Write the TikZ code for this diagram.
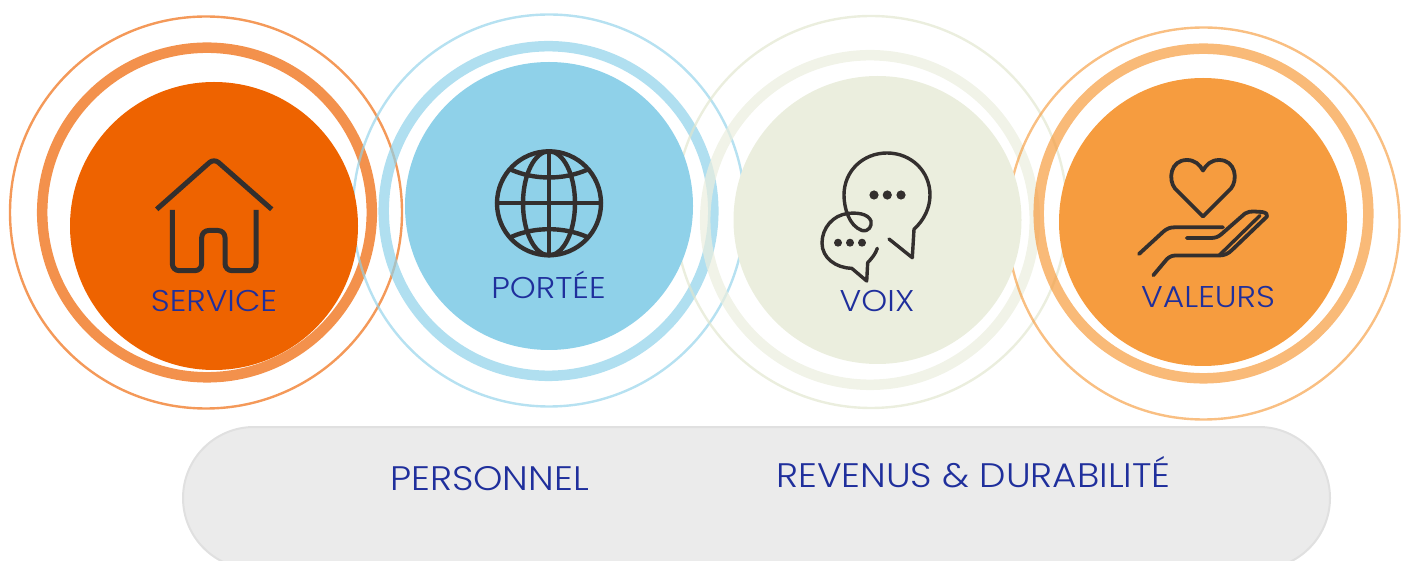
\documentclass[tikz,border=0pt]{standalone}
\usepackage{fontspec}
\setmainfont{Poppins}[UprightFont=* Light, FakeStretch=1.1]
\definecolor{inkdark}{HTML}{332F2E}
\definecolor{labelblue}{HTML}{1F2F9C}
\definecolor{pillgray}{HTML}{EBEBEB}
\definecolor{pillline}{HTML}{E0E0E0}
\definecolor{servfill}{HTML}{EE6300}
\definecolor{portfill}{HTML}{8FD1E9}
\definecolor{voixfill}{HTML}{EBEEDE}
\definecolor{voixthin}{HTML}{E0E5CC}
\definecolor{valfill}{HTML}{F69C3F}
\tikzset{
  thinring/.style={line width=2.4, draw opacity=.65},
  thickring/.style={line width=10.5, draw opacity=.7},
  icon/.style={draw=inkdark, line width=4.4, line cap=round, line join=round},
  iconthin/.style={draw=inkdark, line width=3.4, line cap=round, line join=round},
  dotmark/.style={fill=inkdark},
  lbl/.style={text=labelblue, inner sep=0, anchor=base, font=\fontsize{30}{30}\selectfont},
  lblbig/.style={text=labelblue, inner sep=0, anchor=base, font=\fontsize{34}{34}\selectfont}
}

\begin{document}
\begin{tikzpicture}[x=1pt,y=-1pt]
\useasboundingbox (0,0) rectangle (1409,561);

\begin{scope}
\clip (0,0) rectangle (1409,561);
\draw[fill=pillgray, draw=pillline, line width=2, rounded corners=71] (183,427) rectangle (1330,569); % base
\end{scope}

% rings first, discs over them
\draw[servfill, thinring] (206,212.5) circle (196);
\draw[servfill, thickring] (207,212.5) circle (164.8);
\draw[portfill, thinring] (549,210.5) circle (196);
\draw[portfill, thickring] (548.5,211) circle (164.8);
\draw[voixthin, thinring] (871,212) circle (196);
\draw[voixfill, thickring] (870,220) circle (164.8);
\draw[valfill, thinring] (1203.5,223.5) circle (196);
\draw[valfill, thickring] (1203.5,213.5) circle (164.8);

\fill[servfill] (214,226) circle (144);
\fill[portfill] (549,206) circle (144);
\fill[voixfill] (877.5,220) circle (144);
\fill[valfill] (1203,222) circle (144);

% house
\draw[icon, line width=5, line cap=butt, rounded corners=6] (156.7,209.3) -- (214,158.5) -- (271.7,209.3);
\draw[icon, line width=5, line cap=butt, rounded corners=7] (172.3,210) -- (172.3,270.7) -- (201.7,270.7) -- (201.7,230.5) -- (225,230.5) -- (225,270.7) -- (256,270.7) -- (256,210);

% globe
\draw[icon] (549,203.3) circle (52);
\draw[icon] (549,203.3) ellipse (26 and 52);
\draw[icon] (549,151.3) -- (549,255.3);
\draw[icon] (497,203.3) -- (601,203.3);
\draw[icon] (511.7,170) .. controls (535,180) and (563,180) .. (586.7,170);
\draw[icon] (511.7,236.7) .. controls (535,226.7) and (563,226.7) .. (586.7,236.7);

% bubbles
\draw[iconthin] (889,239) -- (912.3,257.7) -- (914,229.3)
  .. controls (924,220) and (930,208) .. (930,195)
  .. controls (930,171) and (911,153) .. (887,153)
  .. controls (863,153) and (844,171) .. (844,195)
  .. controls (844,208) and (849,226) .. (862,230.5)
  .. controls (869,232) and (872,226) .. (871,221)
  .. controls (868,213) and (855,212.5) .. (848,213.5)
  .. controls (833,215) and (822,228) .. (822,243)
  .. controls (822,258) and (836,268) .. (851.7,268.3)
  -- (866.7,281) -- (867.7,262.7)
  .. controls (872,258) and (875.5,254) .. (877.3,248.3);
\foreach \dotx in {874,887.3,901}
  \fill[dotmark] (\dotx,195) circle (4.6);
\foreach \dotx in {838,850,862}
  \fill[dotmark] (\dotx,242.7) circle (4);

% heart
\draw[icon, line width=3.8] (1203,216.5) -- (1175,188.5)
  .. controls (1168,180) and (1170,160) .. (1187,160)
  .. controls (1195,160) and (1200,165) .. (1203,170.5)
  .. controls (1206,165) and (1211,160) .. (1219,160)
  .. controls (1236,160) and (1238,180) .. (1231,188.5) -- cycle;
% hand
\draw[icon, line width=3.8] (1139,254) -- (1163.3,231.7)
  .. controls (1167,228.5) and (1170,227.3) .. (1175,227.3) -- (1223,227.3);
\draw[icon, line width=3.8] (1186.7,238) -- (1211,238)
  .. controls (1215,238) and (1218,237) .. (1221,234.5)
  -- (1245,213.5) .. controls (1248,211.5) and (1251,211.5) .. (1254,211.5)
  -- (1262,212) .. controls (1266,212.5) and (1268,214.5) .. (1267,216.5)
  -- (1232,250) .. controls (1228,254) and (1224,255.5) .. (1219,255.5)
  -- (1176,255.5) .. controls (1172,255.5) and (1170,256.5) .. (1167,259)
  -- (1153.3,275.3);
\draw[icon, line width=3.4] (1219,255.5) -- (1260,215.5);

% labels
\node[lbl] (service) at (214,311.5) {SERVICE};
\node[lbl] (portee) at (548.5,298.5) {PORTÉE};
\node[lbl] (voix) at (877,311.5) {VOIX};
\node[lbl] (valeurs) at (1208,307.5) {VALEURS};
\node[lblbig] (personnel) at (489.5,490) {PERSONNEL};
\node[lblbig] (revenus) at (973.5,487) {REVENUS \& DURABILITÉ};
\end{tikzpicture}
\end{document}
